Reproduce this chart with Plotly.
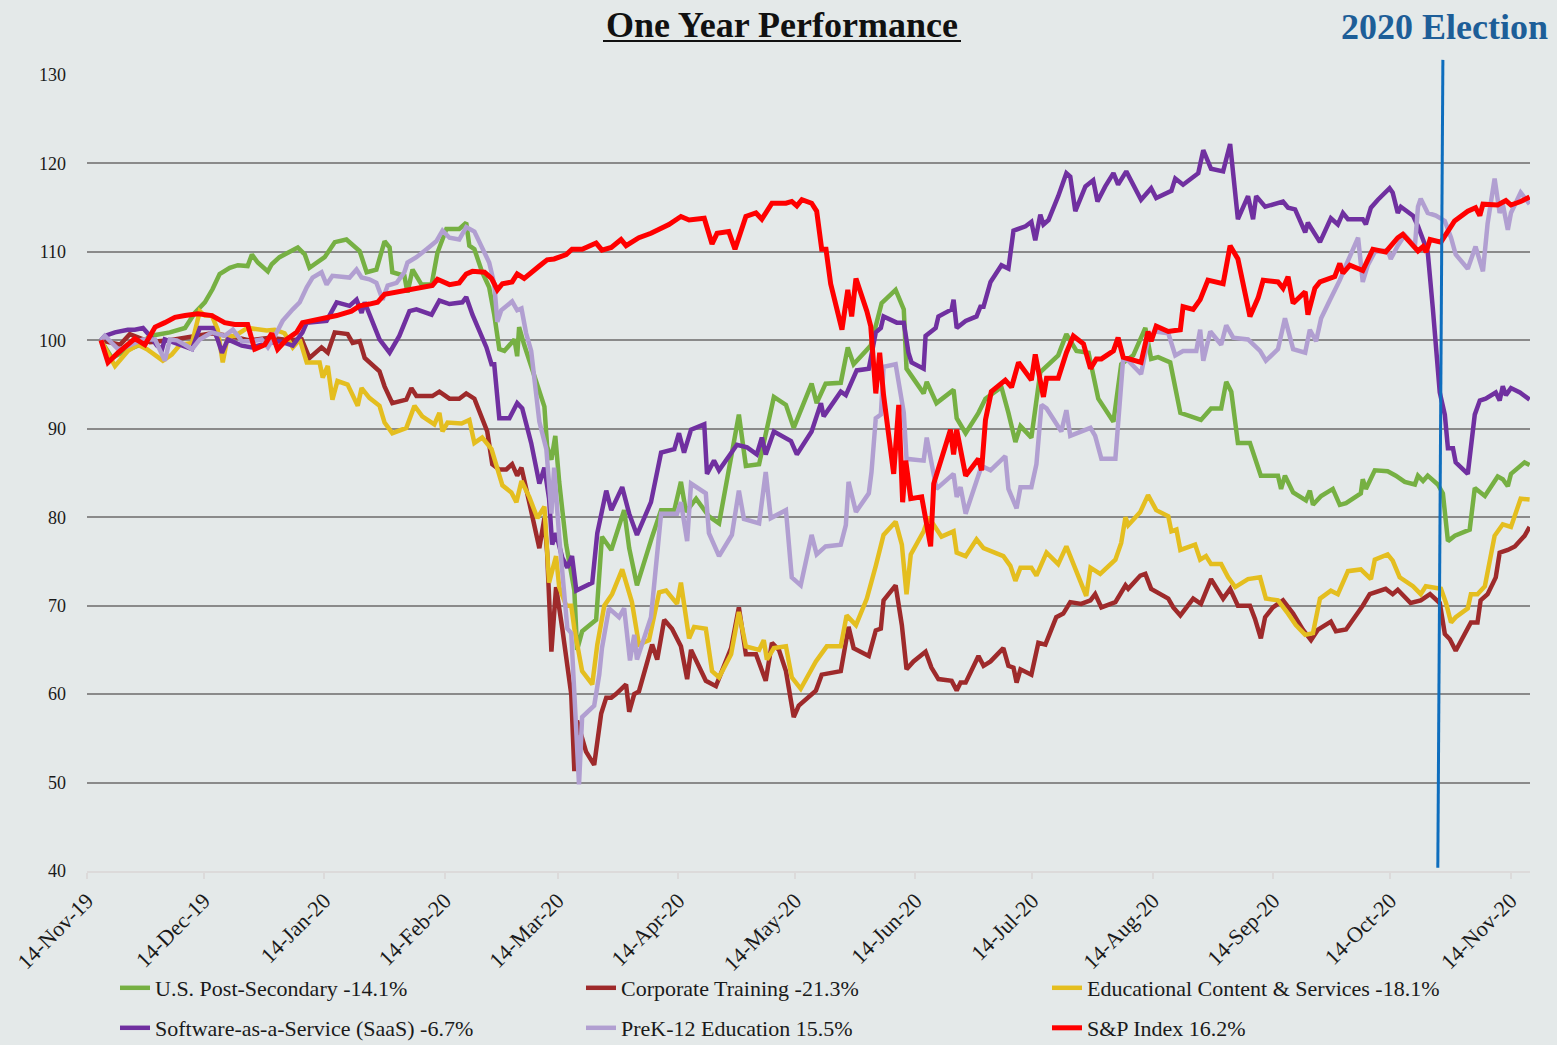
import pandas as pd
import plotly.graph_objects as go

# ---------------- data ----------------
START = "2019-11-14"  # day 0 of the offsets below

tick_labels = ["14-Nov-19", "14-Dec-19", "14-Jan-20", "14-Feb-20", "14-Mar-20",
               "14-Apr-20", "14-May-20", "14-Jun-20", "14-Jul-20", "14-Aug-20",
               "14-Sep-20", "14-Oct-20", "14-Nov-20"]

series_names = ["U.S. Post-Secondary -14.1%", "Corporate Training -21.3%",
                "Educational Content & Services -18.1%",
                "Software-as-a-Service (SaaS) -6.7%", "PreK-12 Education 15.5%",
                "S&P Index 16.2%"]

# U.S. Post-Secondary (days since 14-Nov-19, index value)
ps_days = [3.6, 6.4, 9.8, 13.6, 16.2, 21.3, 25.2, 27.7, 30.3, 32.3,
           34.1, 36.7, 38.8, 41.3, 42.4, 43.9, 46.5, 47.5, 49.5, 54.2,
           56.0, 57.2, 61.1, 63.7, 66.7, 70.1, 71.9, 74.4, 76.5, 77.8,
           78.5, 81.6, 82.4, 83.7, 86.0, 88.6, 90.1, 92.4, 95.7, 97.5,
           98.3, 99.6, 101.6, 103.4, 104.7, 106.0, 107.3, 109.9, 110.6, 111.1,
           112.4, 114.2, 117.6, 118.3, 119.4, 120.4, 121.4, 123.2, 125.3, 126.0,
           127.3, 130.9, 132.4, 134.8, 138.1, 139.4, 141.4, 145.3, 147.6, 151.0,
           152.7, 154.0, 156.6, 159.9, 162.5, 167.6, 169.4, 172.8, 176.6, 179.7,
           181.7, 186.3, 187.6, 189.9, 193.8, 195.6, 197.1, 201.5, 204.3, 207.9,
           210.0, 210.7, 215.1, 215.9, 218.4, 222.8, 223.6, 225.9, 229.2, 231.0,
           235.1, 236.9, 238.7, 240.0, 242.8, 245.1, 249.7, 251.8, 254.4, 257.5,
           260.0, 263.9, 265.9, 269.0, 272.1, 273.6, 275.4, 278.5, 281.1, 286.4,
           289.0, 291.6, 292.9, 294.2, 295.9, 299.0, 301.8, 306.2, 307.0, 308.0,
           310.1, 313.4, 314.4, 315.2, 317.3, 320.3, 322.1, 323.7, 327.5, 328.0,
           328.8, 331.1, 334.4, 336.5, 338.8, 341.4, 342.2, 343.5, 344.7, 347.3,
           348.6, 349.9, 351.7, 355.5, 356.8, 359.4, 362.7, 364.0, 365.3, 366.1,
           369.6, 370.9]
ps_vals = [100, 98, 98.8, 99.5, 100.5, 100.9, 101.4, 103.1, 104.3, 105.8,
           107.5, 108.2, 108.5, 108.4, 109.7, 108.8, 107.8, 108.6, 109.4, 110.5,
           109.7, 108.2, 109.4, 111.1, 111.4, 110.1, 107.7, 108, 111.2, 110.5,
           107.7, 107.3, 105.4, 108, 106.3, 106.3, 109.9, 112.6, 112.6, 113.3,
           110.7, 110.3, 107.7, 106, 102.9, 99, 98.8, 100.1, 98.2, 101.5,
           99.5, 97, 92.5, 88, 86.5, 89.2, 84, 76.9, 71.7, 65,
           67.1, 68.4, 77.8, 76.3, 80.8, 76.5, 72.3, 77.8, 80.8, 80.8,
           84, 80.6, 82.1, 80.1, 79.3, 91.6, 85.8, 86, 93.6, 92.7,
           90.1, 95.1, 92.9, 95.1, 95.2, 99.2, 97.3, 99.4, 104.2, 105.7,
           103.5, 96.8, 94, 95.3, 92.9, 94.4, 91.2, 89.5, 91.8, 93.4,
           94.7, 91.8, 88.5, 90.3, 89, 96.4, 98.3, 100.7, 98.8, 98.6,
           93.4, 90.8, 97.3, 98.3, 101.4, 97.9, 98.1, 97.5, 91.8, 91,
           92.3, 92.3, 95.3, 94.2, 88.4, 88.4, 84.7, 84.7, 83.2, 84.7,
           82.8, 81.9, 83, 81.4, 82.4, 83.2, 81.4, 81.6, 82.7, 84.3,
           83.2, 85.3, 85.2, 84.7, 84, 83.7, 84.7, 84.1, 84.7, 83.7,
           82.7, 77.3, 77.9, 78.6, 83.3, 82.4, 84.6, 84.3, 83.5, 84.9,
           86.2, 85.9]

# Corporate Training
ct_days = [3.6, 8.5, 11.0, 16.2, 21.3, 29.0, 32.1, 36.7, 41.8, 47.0,
           52.1, 55.2, 57.2, 60.3, 61.9, 63.7, 67.0, 68.3, 70.1, 71.4,
           75.2, 76.5, 78.5, 82.1, 83.4, 84.7, 88.8, 90.6, 93.2, 95.7,
           97.5, 99.6, 101.6, 102.9, 104.2, 106.0, 107.8, 109.3, 110.6, 111.7,
           113.7, 116.3, 117.6, 118.3, 119.4, 120.6, 122.2, 124.5, 125.3, 126.0,
           128.3, 130.4, 132.2, 133.5, 134.8, 136.0, 138.6, 139.4, 140.7, 141.9,
           145.3, 146.6, 148.4, 150.4, 152.7, 154.3, 155.3, 159.1, 161.7, 165.6,
           167.6, 169.4, 172.0, 174.5, 176.1, 177.9, 179.7, 181.7, 183.0, 185.6,
           187.4, 188.9, 193.8, 195.8, 197.1, 201.0, 202.8, 204.1, 204.8, 207.9,
           209.5, 210.7, 212.5, 215.6, 217.1, 218.9, 222.3, 223.6, 224.6, 225.9,
           229.2, 230.5, 232.3, 235.6, 236.9, 238.2, 239.0, 240.0, 242.8, 244.6,
           246.4, 249.2, 251.0, 252.8, 255.6, 258.0, 259.2, 260.8, 264.4, 267.0,
           267.7, 270.8, 272.1, 273.6, 276.2, 278.0, 279.3, 281.1, 284.4, 286.4,
           289.0, 292.1, 293.9, 295.9, 299.0, 300.3, 301.8, 302.9, 304.9, 307.5,
           310.1, 312.6, 314.7, 316.5, 319.8, 321.1, 323.7, 326.8, 328.0, 329.8,
           333.9, 335.7, 337.0, 340.3, 342.9, 345.3, 347.8, 349.1, 350.4, 351.9,
           355.8, 357.5, 358.3, 360.1, 362.2, 363.2, 365.3, 367.1, 369.6, 370.9]
ct_vals = [100, 99.5, 100.7, 99.8, 100, 100.5, 100.8, 100.5, 100, 100.3,
           100, 100.1, 98, 99.2, 98.6, 100.9, 100.7, 99.7, 99.9, 98,
           96.5, 94.8, 92.9, 93.3, 94.6, 93.7, 93.7, 94.2, 93.4, 93.4,
           94, 93.4, 91.2, 89.7, 86, 85.4, 85.4, 86, 84.7, 85.6,
           81.7, 76.5, 79.9, 76, 64.8, 72.1, 67.4, 60, 51.3, 57,
           53.5, 52, 57.8, 59.6, 59.6, 60, 61.1, 58, 60, 60.3,
           65.6, 63.9, 68.4, 67.4, 65.4, 61.7, 65, 61.5, 60.9, 65.2,
           69.8, 64.5, 64.5, 61.5, 65.8, 65, 62.6, 57.4, 58.7, 59.8,
           60.4, 62.2, 62.6, 67.6, 65.2, 64.3, 67.2, 67.4, 70.6, 72.3,
           67.8, 62.8, 63.7, 64.8, 63, 61.7, 61.5, 60.4, 61.3, 61.3,
           64.3, 63.2, 63.7, 65.2, 63.2, 63, 61.3, 62.8, 62.2, 65.8,
           65.6, 68.7, 69.1, 70.4, 70.2, 70.6, 71.3, 69.8, 70.4, 72.3,
           71.9, 73.4, 73.6, 71.9, 71.3, 70.8, 69.8, 68.9, 70.8, 70.2,
           73, 70.8, 71.9, 70, 70, 68.5, 66.3, 68.7, 69.8, 70.6,
           69.1, 67.3, 66.1, 67.3, 68.2, 67.1, 67.3, 69.1, 70, 71.3,
           71.9, 71.3, 71.8, 70.3, 70.6, 71.3, 70.3, 66.8, 66.2, 64.9,
           68.1, 68.1, 70.6, 71.3, 73.2, 76, 76.3, 76.7, 77.9, 78.9]

# Educational Content & Services
ec_days = [3.6, 7.2, 10.5, 13.1, 15.4, 17.5, 19.5, 21.8, 23.9, 27.0,
           29.0, 30.3, 32.1, 33.6, 34.9, 36.2, 38.0, 41.3, 43.9, 46.2,
           48.3, 50.8, 52.9, 54.7, 56.5, 59.8, 60.6, 61.9, 63.1, 64.4,
           67.0, 68.3, 69.6, 70.6, 72.6, 75.2, 76.5, 78.5, 82.1, 84.2,
           86.2, 89.3, 90.6, 91.4, 92.7, 96.3, 98.3, 99.6, 101.6, 104.0,
           105.2, 106.8, 109.1, 110.4, 111.7, 113.7, 115.8, 117.6, 118.8, 120.6,
           121.4, 123.2, 124.5, 125.3, 127.3, 129.9, 131.2, 133.0, 135.0, 137.6,
           140.1, 141.9, 144.5, 147.1, 148.9, 151.7, 152.7, 154.8, 156.1, 159.1,
           160.7, 162.5, 165.6, 167.6, 169.4, 172.8, 174.0, 174.8, 176.6, 179.7,
           181.2, 183.5, 187.4, 190.2, 193.8, 195.3, 197.7, 200.5, 202.8, 204.8,
           207.9, 209.5, 210.7, 211.8, 215.1, 216.4, 219.7, 222.8, 223.6, 225.9,
           228.7, 230.5, 235.6, 237.4, 238.7, 240.0, 242.8, 244.1, 246.7, 249.7,
           251.8, 254.1, 256.9, 258.0, 260.5, 264.4, 265.9, 267.0, 267.7, 270.8,
           272.8, 274.9, 278.0, 278.8, 280.1, 281.1, 284.9, 286.2, 287.7, 289.0,
           291.6, 293.4, 295.2, 298.5, 301.6, 303.1, 306.2, 308.8, 310.8, 313.2,
           315.2, 317.0, 319.8, 321.6, 324.2, 327.5, 330.1, 331.1, 334.4, 335.7,
           337.5, 340.9, 342.9, 344.2, 348.1, 349.4, 350.7, 351.9, 355.0, 355.8,
           357.5, 359.4, 361.9, 364.0, 366.1, 368.6, 370.9]
ec_vals = [100, 97.1, 98.8, 99.5, 99, 98.4, 97.7, 98.4, 99.5, 99.7,
           103.3, 102.8, 102.8, 101.2, 97.5, 100.5, 100.5, 101.4, 101.2, 101.1,
           101.2, 100.8, 99.2, 100.1, 97.5, 97.5, 95.8, 97.1, 93.3, 95.4,
           95, 93.7, 92.6, 94.6, 93.5, 92.6, 90.7, 89.5, 90.1, 92.6,
           91.4, 90.5, 91.8, 89.7, 90.7, 90.6, 91, 88.4, 89, 87.7,
           86, 83.6, 82.8, 81.7, 84.1, 82.3, 79.9, 81.2, 72.6, 75.6,
           72.1, 70, 70, 67.4, 62.6, 61.1, 65.6, 70, 71.3, 74.1,
           70.4, 65.6, 66.1, 71.5, 71.7, 70.2, 72.6, 66.3, 67.6, 67.4,
           62.6, 61.9, 64.5, 69.3, 65.4, 65, 66.1, 63.9, 65.2, 65.4,
           61.9, 60.6, 63.7, 65.4, 65.4, 68.9, 67.8, 70.8, 74.5, 78,
           79.5, 76.9, 71.3, 75.8, 78.4, 80, 77.8, 78.4, 76, 75.6,
           77.5, 76.5, 75.6, 74.5, 72.8, 74.3, 74.3, 73.4, 76, 74.7,
           76.7, 74.1, 71.1, 74.3, 73.6, 75.2, 77.1, 80, 79.1, 80.6,
           82.5, 80.8, 80.1, 78.4, 78.6, 76.3, 76.9, 75.2, 75.6, 74.7,
           74.7, 73.2, 72.1, 73, 73.2, 70.8, 70.6, 69.1, 67.8, 66.7,
           66.9, 70.8, 71.7, 71.3, 73.9, 74.1, 73, 75.2, 75.8, 75.1,
           73.2, 72.2, 71.3, 72.2, 71.9, 70.3, 68.1, 68.7, 69.7, 71.3,
           71.3, 72.2, 77.9, 79.2, 78.9, 82.1, 82]

# Software-as-a-Service (SaaS)
saas_days = [3.6, 4.6, 7.2, 10.5, 12.3, 14.4, 16.2, 18.0, 19.3, 20.0,
             22.6, 27.0, 29.0, 32.3, 33.6, 34.7, 36.2, 39.8, 42.4, 46.5,
             49.5, 52.9, 55.4, 56.5, 61.6, 64.2, 67.5, 69.3, 70.6, 71.4,
             75.2, 77.8, 80.3, 82.9, 84.7, 88.6, 90.6, 93.2, 96.5, 97.5,
             99.1, 100.1, 102.7, 104.0, 104.7, 106.0, 108.6, 110.6, 111.9, 114.2,
             116.3, 117.6, 118.8, 119.6, 120.6, 122.2, 123.5, 124.7, 125.8, 129.9,
             131.2, 133.5, 134.8, 137.6, 139.4, 141.4, 145.0, 147.6, 151.0, 152.2,
             153.5, 155.3, 158.7, 159.4, 161.2, 162.5, 167.1, 169.7, 172.2, 173.5,
             174.5, 176.6, 181.0, 182.5, 186.3, 188.7, 189.4, 193.8, 195.1, 197.9,
             201.0, 202.8, 204.1, 204.8, 208.2, 210.0, 211.2, 212.0, 215.1, 215.6,
             218.2, 218.9, 222.3, 222.8, 223.6, 225.9, 228.7, 229.7, 230.5, 232.3,
             235.1, 236.9, 238.2, 241.3, 242.8, 243.8, 245.1, 245.9, 247.2, 249.7,
             251.8, 252.8, 254.1, 256.7, 258.7, 259.8, 261.8, 263.9, 265.1, 267.2,
             271.0, 273.6, 274.9, 278.8, 279.8, 281.8, 285.7, 287.0, 289.0, 292.1,
             293.9, 295.9, 298.5, 299.8, 300.6, 302.9, 307.5, 308.8, 310.6, 313.2,
             313.9, 317.0, 319.8, 321.6, 322.9, 324.2, 328.0, 328.8, 330.1, 331.9,
             334.9, 335.7, 337.0, 337.8, 340.9, 342.2, 344.7, 346.0, 347.8, 349.1,
             349.9, 351.2, 351.9, 355.0, 356.8, 358.1, 359.6, 362.2, 363.2, 364.0,
             364.8, 366.1, 368.4, 370.9]
saas_vals = [100, 100.5, 100.9, 101.2, 101.2, 101.4, 100.5, 99.4, 99, 100.1,
             99.7, 99, 101.4, 101.4, 100.1, 98.6, 100.1, 99.4, 99.2, 99.7,
             99.9, 99.4, 100.9, 102, 102.2, 104.3, 103.9, 104.6, 103.1, 104.3,
             100.1, 98.6, 100.5, 103.3, 103.5, 102.9, 104.5, 104.1, 104.3, 104.9,
             102.9, 101.8, 99.2, 97.3, 97.3, 91.2, 91.2, 92.9, 92.3, 88.4,
             83.8, 85.6, 82.1, 76.9, 78.2, 75.4, 74.3, 75.6, 71.7, 72.6,
             78.2, 83, 80.8, 83.4, 80.4, 78, 81.7, 87.3, 87.7, 89.5,
             87.3, 89.9, 90.5, 84.9, 86.4, 85.3, 88.2, 87.9, 87.1, 89,
             87.1, 89.7, 88.6, 87.1, 89.7, 92.9, 91.4, 94.2, 93.8, 96.6,
             96.8, 100.9, 101.4, 102.7, 102, 102, 98.6, 97.5, 96.8, 100.5,
             101.4, 102.7, 103.5, 104.6, 101.4, 102.2, 102.7, 103.8, 103.8, 106.6,
             108.5, 108.1, 112.4, 112.9, 113.4, 111.3, 114.2, 113.1, 113.6, 116.3,
             118.9, 118.5, 114.6, 117.4, 118.1, 115.7, 117.4, 118.9, 117.6, 119.1,
             115.9, 117.2, 116.1, 116.9, 118.3, 117.6, 118.9, 121.5, 119.4, 119.1,
             122.2, 113.7, 116.3, 113.7, 116.3, 115.1, 115.7, 115, 114.8, 112.2,
             113.3, 111.1, 113.8, 113.1, 114.4, 113.7, 113.7, 113.1, 115, 115.9,
             117.2, 116.7, 114.4, 115.1, 114.1, 112.9, 110, 103.7, 94.1, 91.6,
             87.8, 87.8, 86.2, 84.9, 91.6, 93.2, 93.4, 94.1, 93.2, 94.8,
             93.8, 94.6, 94.1, 93.3]

# PreK-12 Education
k12_days = [3.6, 4.6, 6.4, 8.0, 9.8, 12.3, 14.4, 17.5, 19.3, 20.0,
            21.3, 23.1, 25.2, 27.0, 29.0, 32.1, 35.4, 37.5, 39.8, 42.4,
            44.9, 46.5, 48.3, 50.3, 52.9, 54.7, 56.5, 58.0, 60.3, 61.6,
            63.1, 67.5, 69.3, 70.6, 72.6, 74.4, 76.0, 77.3, 79.6, 81.6,
            82.4, 84.7, 87.3, 89.8, 91.4, 93.2, 95.7, 97.5, 99.6, 101.6,
            103.4, 104.7, 105.5, 106.5, 109.3, 110.6, 111.7, 112.9, 114.2, 116.3,
            118.1, 119.4, 120.1, 121.4, 123.5, 124.5, 125.8, 126.5, 127.3, 130.4,
            131.7, 132.4, 134.2, 136.8, 138.1, 139.6, 140.7, 141.4, 145.0, 146.6,
            147.6, 151.7, 152.7, 154.3, 155.3, 159.1, 159.9, 162.5, 165.8, 167.6,
            168.9, 172.8, 174.5, 175.8, 179.7, 181.2, 183.5, 186.3, 187.6, 189.9,
            193.8, 195.1, 195.8, 197.7, 201.0, 201.7, 202.8, 204.1, 204.8, 207.9,
            210.0, 210.7, 215.1, 215.9, 217.1, 218.4, 222.8, 223.6, 224.6, 225.9,
            230.0, 232.3, 236.1, 236.9, 239.0, 240.0, 242.8, 244.1, 245.4, 246.7,
            250.5, 251.8, 252.8, 258.0, 259.2, 260.8, 264.4, 266.4, 267.7, 271.0,
            272.8, 274.6, 278.0, 279.8, 281.8, 285.2, 286.2, 287.0, 288.8, 291.6,
            292.9, 294.7, 298.5, 299.8, 301.6, 303.1, 306.2, 308.0, 310.1, 313.2,
            314.4, 316.0, 317.3, 319.6, 322.1, 323.7, 326.8, 328.0, 329.3, 331.1,
            334.4, 335.2, 337.0, 338.8, 341.4, 342.2, 342.9, 344.7, 346.8, 349.1,
            350.7, 351.9, 355.0, 357.0, 358.9, 360.1, 361.9, 363.2, 364.0, 365.3,
            366.1, 368.6, 370.9]
k12_vals = [100, 100.5, 99.7, 99, 99.2, 99.7, 100.1, 100.1, 98.2, 97.7,
            100.1, 100, 99.5, 99, 100.1, 100.9, 100.5, 101.2, 99.9, 99.9,
            100.1, 99.2, 100.5, 102.2, 103.5, 104.3, 106, 107.1, 107.7, 106.3,
            107.3, 107.1, 108, 107.1, 106.9, 106.5, 104.6, 106.2, 106.5, 107.7,
            108.8, 109.4, 110.3, 111.2, 112.4, 111.6, 111.4, 112.8, 112.3, 110.5,
            108.8, 106.4, 102.1, 103.4, 104.4, 103.4, 103.6, 100.8, 98.8, 90.8,
            87.7, 80.4, 85.6, 77.8, 67.4, 66.9, 54.8, 49.8, 57.4, 58.7,
            62.2, 65.2, 69.7, 68.7, 69.7, 63.8, 66.7, 63.9, 68.7, 76.5,
            80.4, 80.4, 81.7, 77.3, 83.8, 82.7, 78.2, 75.6, 78, 83,
            79.8, 79.3, 85.1, 79.9, 80.8, 73.2, 72.3, 78, 75.8, 76.7,
            76.9, 79.1, 84, 80.6, 82.7, 85.1, 91.2, 91.6, 97, 97.3,
            91.8, 86.6, 86.4, 89, 86.4, 83.2, 84.9, 82.3, 83.4, 80.4,
            85.8, 85.3, 86.9, 83.2, 81, 83.4, 83.4, 86, 92.7, 92.3,
            89.7, 92.1, 89.2, 90.1, 89.2, 86.6, 86.6, 97.9, 97.7, 96.2,
            100.1, 101, 100.8, 98.3, 98.8, 98.8, 101.2, 97.7, 101, 99.5,
            101.7, 100.3, 100.1, 99.5, 98.8, 97.7, 99, 102.5, 99, 98.6,
            101.2, 99.9, 102.5, 104.6, 106.8, 108.5, 111.6, 106.6, 108.5, 110,
            110.2, 109.2, 110.7, 111.9, 110.6, 115.1, 116, 114.4, 114.1, 113.5,
            111.6, 109.7, 108.1, 110.6, 107.8, 113.2, 118.3, 114.4, 115.4, 112.5,
            114.4, 116.7, 115.4]

# S&P Index
sp_days = [3.6, 5.4, 8.0, 12.3, 14.9, 17.5, 20.0, 22.6, 25.2, 28.5,
           32.1, 35.4, 38.0, 41.3, 43.1, 45.7, 47.5, 49.0, 51.3, 53.9,
           55.4, 60.6, 64.2, 68.0, 70.1, 72.6, 74.7, 76.5, 81.1, 86.2,
           88.8, 90.1, 93.2, 95.7, 97.5, 99.1, 102.2, 104.0, 105.5, 106.8,
           109.3, 110.6, 112.4, 116.3, 118.3, 120.1, 123.2, 124.7, 127.3, 130.9,
           132.4, 134.8, 137.3, 138.6, 140.1, 141.9, 145.0, 147.1, 149.6, 152.7,
           154.8, 158.7, 159.4, 160.7, 162.0, 165.0, 166.6, 169.4, 172.0, 173.5,
           176.1, 179.7, 181.2, 182.5, 183.8, 186.3, 187.6, 188.9, 190.0, 191.2,
           194.1, 195.6, 196.6, 197.7, 200.5, 201.5, 202.8, 203.8, 204.8, 207.4,
           208.7, 209.7, 210.5, 211.8, 214.6, 216.9, 217.7, 222.0, 222.8, 223.6,
           225.9, 229.2, 230.0, 231.0, 232.5, 236.1, 237.7, 239.5, 242.8, 243.8,
           245.9, 246.7, 249.7, 251.8, 253.6, 256.2, 258.0, 259.5, 260.8, 263.9,
           265.1, 266.4, 271.0, 272.8, 273.6, 274.9, 278.0, 281.1, 281.8, 284.4,
           286.2, 288.2, 292.1, 293.9, 295.9, 299.0, 301.1, 302.4, 306.2, 307.5,
           308.8, 310.1, 313.2, 313.9, 315.7, 317.0, 320.8, 322.1, 322.9, 324.7,
           328.0, 330.6, 333.9, 337.0, 338.3, 342.2, 343.5, 344.3, 345.3, 348.1,
           351.6, 355.0, 357.0, 358.1, 358.9, 362.7, 364.8, 366.1, 368.6, 370.9]
sp_vals = [100, 97.5, 98.6, 100.2, 99.5, 101.5, 102, 102.6, 102.8, 103,
           102.8, 102, 101.8, 101.8, 99, 99.5, 100.8, 99, 100.1, 100.9,
           102, 102.4, 102.8, 103.3, 103.9, 104.1, 104.3, 105.2, 105.6, 106,
           106.2, 106.9, 106.3, 106.5, 107.5, 107.8, 107.7, 107, 105.7, 106.4,
           106.6, 107.5, 107, 108.4, 109.1, 109.2, 109.7, 110.3, 110.3, 111,
           110.2, 110.5, 111.4, 110.7, 111.1, 111.6, 112.1, 112.5, 113.1, 114,
           113.6, 113.8, 112.6, 110.9, 112.1, 112.3, 110.3, 114, 114.4, 113.7,
           115.5, 115.5, 115.7, 115.2, 115.9, 115.5, 114.6, 110.3, 110.3, 106.4,
           101.2, 105.7, 102.7, 107, 103.3, 101.6, 94, 98.6, 93.8, 84.9,
           92.7, 81.7, 86.4, 82.1, 82.3, 76.7, 83.8, 89.9, 87.1, 89.9,
           84.7, 86.6, 85.3, 91, 94.2, 95.5, 94.7, 97.5, 95.5, 98.4,
           93.6, 95.7, 95.7, 98.6, 100.5, 99.6, 96.8, 97.9, 97.9, 98.8,
           100.3, 98.1, 97.5, 101, 99.9, 101.6, 101, 101.2, 103.8, 103.5,
           104.6, 106.8, 106.4, 110.7, 109.2, 102.7, 104.8, 106.8, 106.6, 105.9,
           107.2, 104.2, 105.5, 102.9, 105.9, 106.6, 107.2, 108.7, 107.6, 108.5,
           107.9, 110.3, 110, 111.6, 112, 110.1, 110.6, 110, 111.4, 111.1,
           113.5, 114.6, 115, 114.1, 115.4, 115.3, 115.8, 115.3, 115.7, 116.2]

# election marker (days since 14-Nov-19, bottom and top of the drawn line)
election_days = [347.3, 348.6]

# ---------------- styling ----------------
BG = "#E4E9E9"
GRID = "#8A8A8A"
FONT = "Liberation Serif, Times New Roman, serif"
colors = ["#76B043", "#9E2A2B", "#E4BE1F", "#7030A0", "#B19FD1", "#FF0000"]
widths = [4.5, 4.5, 4.5, 4.5, 4.5, 5]
legend_ids = ["legend", "legend", "legend", "legend2", "legend2", "legend2"]

all_days = [ps_days, ct_days, ec_days, saas_days, k12_days, sp_days]
all_vals = [ps_vals, ct_vals, ec_vals, saas_vals, k12_vals, sp_vals]

start = pd.Timestamp(START)


def to_dates(days):
    return start + pd.to_timedelta(pd.Series(days, dtype=float), unit="D")


fig = go.Figure()
for name, d, v, c, w, lg in zip(series_names, all_days, all_vals, colors, widths, legend_ids):
    assert len(d) == len(v), (name, len(d), len(v))
    fig.add_trace(go.Scatter(x=to_dates(d), y=v, mode="lines", name=name,
                             line=dict(color=c, width=w), legend=lg,
                             hoverinfo="skip"))

tick_dates = pd.to_datetime(tick_labels, format="%d-%b-%y")

legend_common = dict(orientation="h", xref="container", yref="container",
                     xanchor="left", yanchor="top", entrywidth=421,
                     entrywidthmode="pixels", font=dict(size=22, family=FONT, color="#1a1a1a"),
                     bgcolor="rgba(0,0,0,0)", traceorder="normal")

fig.update_layout(
    width=1557, height=1045,
    margin=dict(l=87, r=27, t=75, b=174, autoexpand=False),
    paper_bgcolor=BG, plot_bgcolor=BG,
    font=dict(family=FONT, color="#1a1a1a"),
    showlegend=True,
    legend=dict(legend_common, x=115 / 1557, y=1 - 967 / 1045),
    legend2=dict(legend_common, x=115 / 1557, y=1 - 1007 / 1045),
    xaxis=dict(type="date", automargin=False,
               range=[start, start + pd.Timedelta(days=371)],
               tickvals=tick_dates, ticktext=tick_labels, tickangle=-45,
               tickfont=dict(size=22, family=FONT, color="#1a1a1a"),
               showgrid=False, zeroline=False,
               showline=True, linecolor="#DCDADA", linewidth=2,
               ticks="outside", ticklen=6, tickwidth=2, tickcolor="#DCDADA"),
    yaxis=dict(range=[40, 130], tick0=40, dtick=10, automargin=False,
               tickfont=dict(size=18, family=FONT, color="#1a1a1a"),
               showgrid=True, gridcolor=GRID, gridwidth=2,
               zeroline=False, showline=False, ticks="",
               ticklabelstandoff=20),
)

# title + underline
fig.add_annotation(text="<b>One Year Performance</b>", xref="paper", yref="paper",
                   x=(782 - 87) / 1443, y=(871 - 25) / 796, xanchor="center", yanchor="middle",
                   showarrow=False, font=dict(size=36, family=FONT, color="#111111"))
fig.add_shape(type="line", xref="paper", yref="paper",
              x0=(603 - 87) / 1443, x1=(961 - 87) / 1443,
              y0=(871 - 41) / 796, y1=(871 - 41) / 796,
              line=dict(color="#111111", width=2))

# election marker
fig.add_annotation(text="<b>2020 Election</b>", xref="paper", yref="paper",
                   x=(1550 - 87) / 1443, y=(871 - 27) / 796, xanchor="right", yanchor="middle",
                   showarrow=False, font=dict(size=36, family=FONT, color="#1D5E98"))
fig.add_shape(type="line", xref="x", yref="paper", layer="above",
              x0=start + pd.Timedelta(days=election_days[0]), y0=0.004,
              x1=start + pd.Timedelta(days=election_days[1]), y1=1.019,
              line=dict(color="#0E6EBE", width=3))

fig.write_html("out.html",
               config={"displayModeBar": False},
               post_script="document.body.style.margin='0';document.body.style.overflow='hidden';")
